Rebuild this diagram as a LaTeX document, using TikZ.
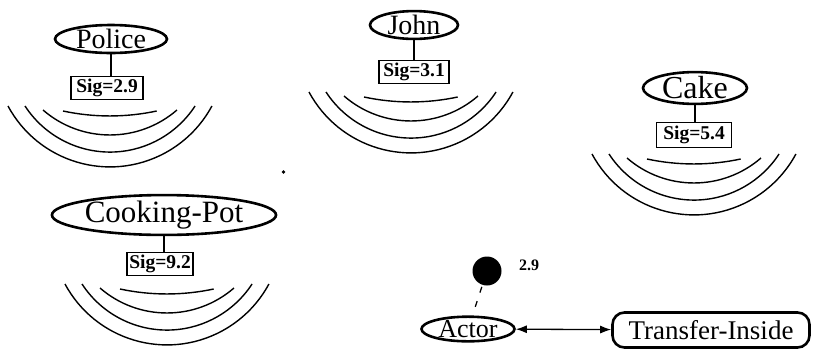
\documentclass[tikz,border=0pt]{standalone}
\usepackage{fontspec}
\setmainfont{Liberation Serif}
\usetikzlibrary{shapes.geometric,arrows.meta}
\newcommand\wavesat[2]{%
  \foreach \hw/\rr/\ph/\off in {47/223.4/12.1/12, 67/102.3/40.9/11, 85/101.5/56.9/7, 102/115.8/61.7/7}
    \draw[wave] ({#1-\hw},{-(#2)-\off}) arc[start angle={270-\ph}, end angle={270+\ph}, radius=\rr pt];
}
\begin{document}
\begin{tikzpicture}[x=1pt,y=1pt,
  obj/.style={ellipse, draw, line width=2.6pt, inner sep=0pt, font=\fontsize{28}{28}\selectfont},
  sigbox/.style={rectangle, draw, line width=1.8pt, inner sep=0pt, font=\bfseries\fontsize{19.5}{19.5}\selectfont},
  wave/.style={line width=1.4pt},
  link/.style={line width=1.3pt},
  rbox/.style={rectangle, rounded corners=12pt, draw, line width=2.6pt, inner sep=0pt, font=\fontsize{27}{27}\selectfont}]
\useasboundingbox (0,0) rectangle (813,-354);

% Police
\node[obj, minimum width=112pt, minimum height=28pt] (police) at (111,-39) {Police};
\node[sigbox, minimum width=72pt, minimum height=23pt] (sigpolice) at (107,-88) {Sig=2.9};
\draw[link] (police.south) -- (police.south |- sigpolice.north);
\wavesat{110}{99}

% John
\node[obj, minimum width=88pt, minimum height=27pt] (john) at (414,-25) {John};
\node[sigbox, minimum width=70pt, minimum height=23pt] (sigjohn) at (414,-72) {Sig=3.1};
\draw[link] (john.south) -- (john.south |- sigjohn.north);
\wavesat{411}{85}

% Cake
\node[obj, minimum width=104pt, minimum height=26pt, font=\fontsize{32}{32}\selectfont] (cake) at (695,-88) {Cake};
\node[sigbox, minimum width=75pt, minimum height=25pt] (sigcake) at (694,-135) {Sig=5.4};
\draw[link] (cake.south) -- (cake.south |- sigcake.north);
\wavesat{694}{147}

% Cooking-Pot
\node[obj, minimum width=173pt, minimum height=30pt, font=\fontsize{31}{31}\selectfont] (pot) at (164,-215) {Cooking-Pot};
\node[sigbox, minimum width=66pt, minimum height=23pt] (sigpot) at (160,-264) {Sig=9.2};
\draw[link] (pot.south) -- (pot.south |- sigpot.north);
\wavesat{167}{277}

% stray mark
\fill (283.5,-172) circle (1.8pt);

% Actor / Transfer-Inside
\node[circle, fill, minimum size=29pt, inner sep=0pt] (blob) at (487,-271) {};
\node[anchor=west, inner sep=0pt, font=\bfseries\fontsize{16}{16}\selectfont] (blobval) at (519,-265) {2.9};
\node[obj, minimum width=93pt, minimum height=24pt, font=\fontsize{26}{26}\selectfont] (actor) at (468,-329) {Actor};
\node[rbox, minimum width=197pt, minimum height=35pt] (transfer) at (711,-330) {Transfer-Inside};
\draw[link, dash pattern=on 6pt off 9pt, shorten <=2pt, shorten >=4pt] (blob) -- (actor);
\draw[link, {Latex[length=11pt,width=8pt]}-{Latex[length=11pt,width=8pt]}] (actor) -- (transfer);
\end{tikzpicture}
\end{document}
